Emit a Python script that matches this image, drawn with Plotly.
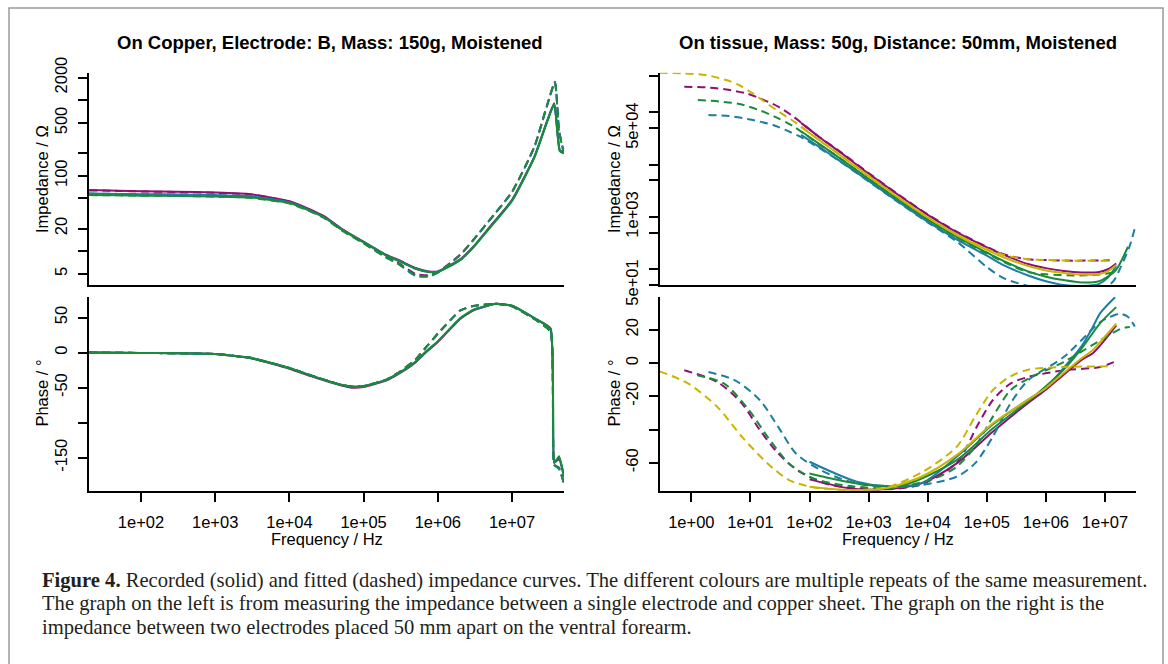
import plotly.graph_objects as go

W, H = 1168, 664

# ---------------- colours ----------------
PURPLE = "#8E1073"
BLUE = "#1B7EA2"
GREEN = "#1A8B3A"
YELLOW = "#C9B500"

# ---------------- left: copper, impedance ----------------
cu_imp_freq_rec = [20, 50, 100, 300, 1000, 3000, 10000, 20000, 30000, 50000, 100000, 200000, 300000,
                   500000, 750000, 1000000, 2000000, 3000000, 5000000, 10000000, 20000000, 30000000,
                   37000000, 44000000, 50000000]
cu_imp_rec_purple = [65, 63.5, 62.5, 61.5, 60, 57, 46, 35, 28.7, 20, 13.4, 9.0, 7.6, 6.0, 5.4, 5.4, 7.8,
                     11.5, 21, 48, 179, 550, 912, 219, 205]
cu_imp_rec_blue = [58, 57.5, 57, 56.5, 55.5, 53.5, 44.5, 34, 28, 19.6, 13.2, 8.9, 7.5, 5.9, 5.35, 5.35,
                   7.7, 11.3, 20.5, 47, 176, 540, 890, 215, 200]
cu_imp_rec_green = [55.6, 55, 54.5, 54, 53, 51.5, 43.5, 33.5, 27.8, 19.5, 13.1, 8.8, 7.4, 5.85, 5.3,
                    5.3, 7.6, 11.2, 20.3, 46.5, 175, 535, 880, 212, 198]

cu_imp_freq_fit = [20, 50, 100, 300, 1000, 3000, 10000, 20000, 30000, 50000, 100000, 200000, 300000,
                   500000, 750000, 1000000, 2000000, 3000000, 5000000, 10000000, 20000000, 30000000,
                   37800000, 43000000, 50000000]
cu_imp_fit_purple = [64, 63, 62, 61, 59.5, 56.5, 45.5, 34.5, 28.3, 19.6, 13.0, 8.5, 6.9, 5.0, 4.8, 5.3,
                     9.0, 14.1, 26, 61.5, 243, 900, 1760, 400, 200]
cu_imp_fit_blue = [58, 57.5, 57, 56.5, 55.5, 53, 44, 33.5, 27.5, 19.2, 12.8, 8.3, 6.7, 4.7, 4.6, 5.2,
                   8.9, 14, 26, 61, 240, 890, 1740, 395, 198]
cu_imp_fit_green = [55.5, 55, 54.5, 54, 53, 51, 43, 33, 27.3, 19.1, 12.7, 8.3, 6.7, 4.8, 4.7, 5.2,
                    8.9, 14, 25.8, 61, 240, 880, 1700, 390, 195]

# ---------------- left: copper, phase ----------------
cu_ph_freq = [20, 100, 300, 1000, 3000, 10000, 20000, 30000, 50000, 70000, 100000, 200000, 300000,
              500000, 700000, 1000000, 2000000, 3000000, 6000000, 10000000, 20000000, 33000000,
              37000000, 43000000, 50000000]
cu_ph_rec_purple = [0, -0.5, -1, -2, -8, -23, -34, -40, -47, -50, -49, -40, -30, -14, 1, 15, 48, 60,
                    69.6, 66.7, 49, 34.8, -157, -152, -177]
cu_ph_rec_blue = [0, -0.5, -1, -2, -7.5, -22, -33, -39, -46, -48.5, -48, -39, -29, -13, 2, 16, 49, 61,
                  69.6, 66.7, 49, 34, -156, -150, -176]
cu_ph_rec_green = [0, -0.5, -1, -2, -7.5, -22, -33, -39, -46, -48.5, -48, -39, -29, -13, 2, 16, 49, 61,
                   69.8, 67, 49, 33, -158, -148, -175]
cu_ph_fit_purple = [0, -0.5, -1, -2, -7.5, -22, -33, -39, -46, -48.5, -48, -39, -28, -10, 8, 27, 60,
                    66.5, 69.6, 66, 48, 30, -160, -165, -186]
cu_ph_fit_blue = [0, -0.5, -1, -2, -7.5, -22, -33, -39, -46, -48.5, -48, -39, -28, -10, 8, 27, 60,
                  66.5, 69.6, 66, 48, 30, -160, -166, -187]
cu_ph_fit_green = [0, -0.5, -1, -2, -7.5, -22, -33, -39, -46, -48.5, -48, -39, -28, -10, 8, 27, 60,
                   66.5, 69.6, 66, 48, 30, -160, -164, -186]

# ---------------- right: tissue, impedance ----------------
ts_imp_freq_rec = [72, 150, 320, 1000, 3200, 10000, 32000, 100000, 200000, 500000, 1000000, 2000000,
                   4000000, 8000000, 11200000, 15500000]
ts_imp_rec_purple = [63100, 33100, 17800, 6760, 2630, 1100, 501, 263, 186, 126, 105, 93, 87, 89, 100, 129]
ts_imp_rec_yellow = [52500, 28800, 15500, 6030, 2340, 977, 447, 234, 166, 115, 95, 85, 79, 81, 91, 120]
ts_imp_rec_blue = [37200, 21400, 12000, 4900, 1950, 813, 363, 182, 117, 76, 59, 50, 48, 52.5, 69, 115]
ts_imp_freq_rec_green = [72, 150, 320, 1000, 3200, 10000, 32000, 100000, 200000, 500000, 1000000,
                         2000000, 4000000, 8000000, 11200000, 15500000, 24500000]
ts_imp_rec_green = [43600, 24500, 13500, 5370, 2140, 891, 407, 209, 141, 91, 72, 62, 56, 59, 72, 98, 269]

ts_imp_freq_fit_yellow = [0.29, 0.71, 1.78, 3.9, 6.5, 11, 17.4, 27.5, 59, 150, 320, 1000, 3200, 10000,
                          32000, 100000, 200000, 500000, 1000000, 3000000, 12000000]
ts_imp_fit_yellow = [573000, 558000, 518000, 416000, 331000, 231000, 160000, 111000, 63100, 28800,
                     15800, 6170, 2400, 1000, 457, 245, 186, 155, 150, 146, 146]
ts_imp_freq_fit_purple = [0.76, 1.78, 3.9, 8.5, 16, 31, 52, 150, 320, 1000, 3200, 10000, 32000, 100000,
                          200000, 500000, 1000000, 3000000, 12000000]
ts_imp_fit_purple = [309000, 301000, 275000, 231000, 178000, 125000, 85100, 33100, 18200, 6920, 2690,
                     1120, 513, 269, 191, 155, 150, 146, 148]
ts_imp_freq_fit_green = [1.29, 2.95, 6.5, 14, 27.5, 52, 150, 320, 1000, 3200, 10000, 32000, 100000,
                         200000, 500000, 1000000, 3000000, 8000000, 15500000]
ts_imp_fit_green = [172000, 162000, 145000, 111000, 80400, 55000, 24000, 13500, 5370, 2140, 891, 400,
                    200, 135, 88, 80, 76, 79, 89]
ts_imp_freq_fit_blue = [1.95, 4.4, 11, 24, 46, 78, 150, 320, 1000, 3200, 10000, 32000, 100000, 200000,
                        500000, 1000000, 3000000, 8000000, 14000000, 18600000, 26300000, 32400000]
ts_imp_fit_blue = [89100, 85100, 71400, 57300, 42700, 31900, 20400, 11800, 4790, 1900, 790, 330, 110,
                   66, 48, 40, 33, 38, 60, 112, 282, 646]

# ---------------- right: tissue, phase ----------------
ts_ph_freq_rec_blue = [100, 234, 631, 1905, 7760, 30900, 126000, 501000, 1000000, 2000000, 4000000,
                       6300000, 8300000, 14800000]
ts_ph_rec_blue = [-59.4, -65.4, -71.4, -74, -72.4, -56.4, -37, -22, -15, -3, 10, 22, 30, 39.6]
ts_ph_freq_rec_green = [100, 234, 955, 3890, 30900, 126000, 501000, 1000000, 2000000, 4070000,
                        8300000, 15500000]
ts_ph_rec_green = [-66.4, -69.4, -73.4, -73.4, -58.4, -39.4, -23, -14, -4, 9, 24, 33.6]
ts_ph_freq_rec_purple = [100, 479, 1905, 7760, 30900, 126000, 501000, 1000000, 2000000, 4070000,
                         6300000, 10000000, 15500000]
ts_ph_rec_purple = [-70, -75.4, -76, -72.4, -60.4, -41.4, -24, -16, -7, 2, 6, 14, 22.6]
ts_ph_freq_rec_yellow = [100, 479, 1905, 7760, 30900, 126000, 501000, 1000000, 2000000, 4070000,
                         6300000, 10000000, 15500000]
ts_ph_rec_yellow = [-74.4, -76.4, -75.4, -68.4, -55.4, -36.4, -22, -15, -6, 3, 8, 16, 23.6]

ts_ph_freq_fit_yellow = [0.29, 0.89, 2.75, 7.2, 19.5, 45, 117, 479, 1905, 7760, 30900, 63100, 126000,
                         251000, 501000, 2000000, 14000000]
ts_ph_fit_yellow = [-5, -12.4, -26.4, -44.4, -60.4, -70.4, -74.8, -76.4, -75, -66, -50.4, -32.4, -16.4,
                    -8, -4, -2.4, -2]
ts_ph_freq_fit_purple = [0.76, 2.75, 7.2, 14.5, 29.5, 68, 234, 1905, 7760, 30900, 72400, 126000, 251000,
                         501000, 2000000, 8300000, 15500000]
ts_ph_fit_purple = [-4.4, -11.4, -24.4, -40.4, -54.4, -65.4, -73.4, -76, -73, -60, -36.4, -22.4, -12.4,
                    -8.4, -4.4, -2.4, 1.2]
ts_ph_freq_fit_green = [1.26, 3.6, 9.5, 19.5, 45, 117, 479, 3000, 15500, 30900, 63100, 126000, 251000,
                        501000, 2000000, 8300000, 18600000, 26300000]
ts_ph_fit_green = [-7.4, -12.4, -28.4, -44.4, -60.4, -69.4, -74, -75, -68.4, -62.4, -50.4, -32.4, -16.4,
                   -9.4, 0.6, 13.6, 20.6, 21.6]
ts_ph_freq_fit_blue = [1.95, 5.5, 14.5, 29.5, 59, 155, 479, 1905, 7760, 30900, 63100, 126000, 251000,
                       501000, 2000000, 8300000, 12000000, 17800000, 24000000, 32000000]
ts_ph_fit_blue = [-5.4, -10.4, -22.4, -38.4, -54.4, -64.4, -71.4, -74.4, -73.4, -68.4, -60.4, -44.4,
                  -24.4, -10.4, 3.6, 24.6, 27.6, 29.6, 28, 22]

# ---------------- axis tick labels ----------------
cu_x_ticks = [1e2, 1e3, 1e4, 1e5, 1e6, 1e7]
cu_x_text = ["1e+02", "1e+03", "1e+04", "1e+05", "1e+06", "1e+07"]
ts_x_ticks = [1e0, 1e1, 1e2, 1e3, 1e4, 1e5, 1e6, 1e7]
ts_x_text = ["1e+00", "1e+01", "1e+02", "1e+03", "1e+04", "1e+05", "1e+06", "1e+07"]
cu_imp_ticks = [5, 10, 20, 50, 100, 200, 500, 1000, 2000]
cu_imp_text = ["5", "", "20", "", "100", "", "500", "", "2000"]
cu_ph_ticks = [50, 0, -50, -100, -150]
cu_ph_text = ["50", "0", "-50", "", "-150"]
ts_imp_ticks = [50, 100, 500, 1000, 5000, 10000, 50000, 100000, 500000]
ts_imp_text = ["5e+01", "", "", "1e+03", "", "", "5e+04", "", ""]
ts_ph_ticks = [20, 0, -20, -40, -60]
ts_ph_text = ["20", "0", "-20", "", "-60"]

titles = ["On Copper, Electrode: B, Mass: 150g, Moistened",
          "On tissue, Mass: 50g, Distance: 50mm, Moistened"]
caption = [
    "<b>Figure 4.</b> Recorded (solid) and fitted (dashed) impedance curves. The different colours are multiple repeats of the same measurement.",
    "The graph on the left is from measuring the impedance between a single electrode and copper sheet. The graph on the right is the",
    "impedance between two electrodes placed 50 mm apart on the ventral forearm.",
]

# ---------------- figure ----------------
FONT = "Liberation Sans, Arial, Helvetica, sans-serif"
DASH = "8px,5px"
LW = 2

def px(x):
    return x / W

def py(y):
    return 1 - y / H

fig = go.Figure()

def add(x, y, color, dashed, xa, ya, smoothing):
    fig.add_trace(go.Scatter(
        x=x, y=y, mode="lines", xaxis=xa, yaxis=ya, showlegend=False, hoverinfo="skip",
        line=dict(color=color, width=LW, dash=DASH if dashed else "solid", shape="spline",
                  smoothing=smoothing)))

# left panel (x, y = top ; x2, y2 = bottom)
for (rec, fit, c) in [(cu_imp_rec_purple, cu_imp_fit_purple, PURPLE),
                      (cu_imp_rec_blue, cu_imp_fit_blue, BLUE),
                      (cu_imp_rec_green, cu_imp_fit_green, GREEN)]:
    add(cu_imp_freq_rec, rec, c, False, "x", "y", 0.5)
    add(cu_imp_freq_fit, fit, c, True, "x", "y", 0.5)
for (rec, fit, c) in [(cu_ph_rec_purple, cu_ph_fit_purple, PURPLE),
                      (cu_ph_rec_blue, cu_ph_fit_blue, BLUE),
                      (cu_ph_rec_green, cu_ph_fit_green, GREEN)]:
    add(cu_ph_freq, rec, c, False, "x2", "y2", 0.4)
    add(cu_ph_freq, fit, c, True, "x2", "y2", 0.4)

# right panel (x3, y3 = top ; x4, y4 = bottom)
for (fr, rec, ff, fit, c) in [
        (ts_imp_freq_rec, ts_imp_rec_purple, ts_imp_freq_fit_purple, ts_imp_fit_purple, PURPLE),
        (ts_imp_freq_rec, ts_imp_rec_blue, ts_imp_freq_fit_blue, ts_imp_fit_blue, BLUE),
        (ts_imp_freq_rec_green, ts_imp_rec_green, ts_imp_freq_fit_green, ts_imp_fit_green, GREEN),
        (ts_imp_freq_rec, ts_imp_rec_yellow, ts_imp_freq_fit_yellow, ts_imp_fit_yellow, YELLOW)]:
    add(fr, rec, c, False, "x3", "y3", 0.8)
    add(ff, fit, c, True, "x3", "y3", 0.8)
for (fr, rec, ff, fit, c) in [
        (ts_ph_freq_rec_purple, ts_ph_rec_purple, ts_ph_freq_fit_purple, ts_ph_fit_purple, PURPLE),
        (ts_ph_freq_rec_blue, ts_ph_rec_blue, ts_ph_freq_fit_blue, ts_ph_fit_blue, BLUE),
        (ts_ph_freq_rec_green, ts_ph_rec_green, ts_ph_freq_fit_green, ts_ph_fit_green, GREEN),
        (ts_ph_freq_rec_yellow, ts_ph_rec_yellow, ts_ph_freq_fit_yellow, ts_ph_fit_yellow, YELLOW)]:
    add(fr, rec, c, False, "x4", "y4", 0.8)
    add(ff, fit, c, True, "x4", "y4", 0.8)

LEFT_X = [px(89), px(564)]
RIGHT_X = [px(660), px(1136)]
TOP_Y = [py(285), py(72.7)]
BOT_Y = [py(490.7), py(296.5)]

axis_common = dict(showline=True, linecolor="black", linewidth=1.7, showgrid=False, zeroline=False,
                   automargin=False,
                   tickfont=dict(family=FONT, size=16.5, color="black"), tickcolor="black",
                   tickwidth=1.7, ticklen=9)

def xax(domain, rng, anchor, ticks=None, text=None):
    d = dict(axis_common, type="log", domain=domain, range=rng, anchor=anchor)
    if ticks is None:
        d.update(ticks="", showticklabels=False)
    else:
        d.update(ticks="outside", tickmode="array", tickvals=ticks, ticktext=text,
                 ticklabelstandoff=7)
    return d

def yax(domain, rng, anchor, ticks, text, log=False):
    d = dict(axis_common, domain=domain, range=rng, anchor=anchor, ticks="outside",
             tickmode="array", tickvals=ticks, ticktext=text, tickangle=-90, ticklabelstandoff=5)
    if log:
        d["type"] = "log"
    return d

fig.update_layout(
    template="none",
    width=W, height=H, margin=dict(l=0, r=0, t=0, b=0, pad=0, autoexpand=False), autosize=False,
    paper_bgcolor="white", plot_bgcolor="white",
    xaxis=xax(LEFT_X, [1.30, 7.70], "y"),
    yaxis=yax(TOP_Y, [0.553, 3.365], "x", cu_imp_ticks, cu_imp_text, log=True),
    xaxis2=xax(LEFT_X, [1.30, 7.70], "y2", cu_x_ticks, cu_x_text),
    yaxis2=yax(BOT_Y, [-197, 80], "x2", cu_ph_ticks, cu_ph_text),
    xaxis3=xax(RIGHT_X, [-0.53, 7.525], "y3"),
    yaxis3=yax(TOP_Y, [1.6985, 5.76], "x3", ts_imp_ticks, ts_imp_text, log=True),
    xaxis4=xax(RIGHT_X, [-0.53, 7.525], "y4", ts_x_ticks, ts_x_text),
    yaxis4=yax(BOT_Y, [-76.8, 40], "x4", ts_ph_ticks, ts_ph_text),
)

ann = []
def label(x, y, text, size=16.5, angle=0, bold=False, family=FONT, xanchor="center", color="black"):
    ann.append(dict(x=px(x), y=py(y), xref="paper", yref="paper", text=f"<b>{text}</b>" if bold else text,
                    showarrow=False, textangle=angle, xanchor=xanchor, yanchor="middle",
                    font=dict(family=family, size=size, color=color)))

label(330, 42, titles[0], size=18.5, bold=True)
label(898, 42, titles[1], size=18.5, bold=True)
label(42, 179, "Impedance / Ω", angle=-90)
label(42, 393.6, "Phase / °", angle=-90)
label(614, 179, "Impedance / Ω", angle=-90)
label(614, 393.6, "Phase / °", angle=-90)
label(326.5, 538.5, "Frequency / Hz")
label(898, 538.5, "Frequency / Hz")
for i, line in enumerate(caption):
    label(40, 580 + i * 23.5, line, size=20.6, family="Liberation Serif, Times New Roman, serif",
          xanchor="left", color="#231F20")
fig.update_layout(annotations=ann)

fig.add_shape(type="rect", xref="paper", yref="paper", x0=px(9), x1=px(1163), y0=-0.02, y1=py(8),
              line=dict(color="#9A9A9A", width=1.5), fillcolor="rgba(0,0,0,0)", layer="below")

fig.write_html("out.html", config={"displayModeBar": False},
               post_script="document.body.style.margin='0';document.body.style.overflow='hidden';")
